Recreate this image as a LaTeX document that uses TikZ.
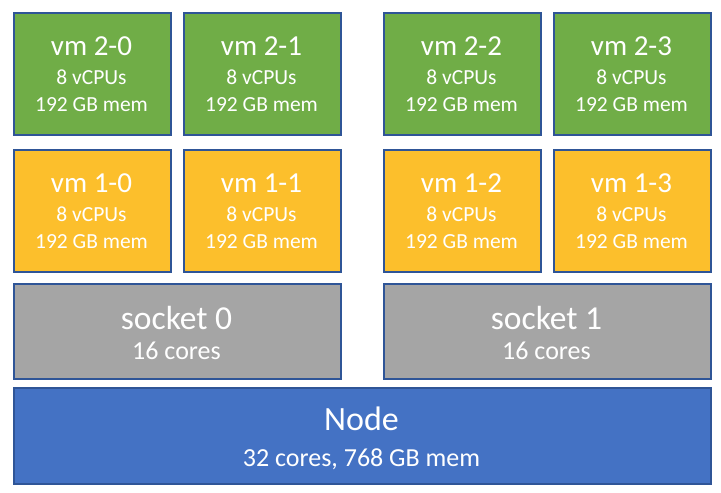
\documentclass[tikz,border=0pt]{standalone}
\usepackage{fontspec}
\setmainfont{Carlito}
\definecolor{vmgreen}{HTML}{70AD47}
\definecolor{vmorange}{HTML}{FCBF2C}
\definecolor{sockgray}{HTML}{A5A5A5}
\definecolor{nodeblue}{HTML}{4472C4}
\definecolor{edgeblue}{HTML}{2F5597}
\tikzset{
  box/.style={draw=edgeblue, line width=1.6pt, inner sep=0pt, anchor=north west},
  txt/.style={text=white, anchor=base, inner sep=0pt},
  vmttl/.style={txt, font=\fontsize{29}{33}\selectfont},
  vmsub/.style={txt, font=\fontsize{21.5}{25}\selectfont},
  skttl/.style={txt, font=\fontsize{33.5}{38}\selectfont},
  sksub/.style={txt, font=\fontsize{26}{30}\selectfont},
  ndttl/.style={txt, font=\fontsize{34}{38}\selectfont},
  ndsub/.style={txt, font=\fontsize{26}{30}\selectfont},
}
\newcommand\vmcell[5]{%
  \node[box, fill=#4, minimum width=157pt, minimum height=122pt] (#1) at (#2,#3) {};
  \node[vmttl] (#1t) at (#2+78.5,#3+43.7) {vm #5};
  \node[vmsub] (#1c) at (#2+78.5,#3+72.3) {8 vCPUs};
  \node[vmsub] (#1m) at (#2+78.5,#3+99.7) {192 GB mem};
}
\begin{document}
\begin{tikzpicture}[x=1pt,y=-1pt]
\useasboundingbox (0,0) rectangle (721,493);
\vmcell{v20}{13}{12}{vmgreen}{2-0}
\vmcell{v21}{183}{12}{vmgreen}{2-1}
\vmcell{v22}{383}{12}{vmgreen}{2-2}
\vmcell{v23}{553}{12}{vmgreen}{2-3}
\vmcell{v10}{13}{149}{vmorange}{1-0}
\vmcell{v11}{183}{149}{vmorange}{1-1}
\vmcell{v12}{383}{149}{vmorange}{1-2}
\vmcell{v13}{553}{149}{vmorange}{1-3}
\node[box, fill=sockgray, minimum width=327pt, minimum height=95pt] (s0) at (13,283) {};
\node[skttl] (s0t) at (176.5,329.3) {socket 0};
\node[sksub] (s0c) at (176.5,359.3) {16 cores};
\node[box, fill=sockgray, minimum width=327pt, minimum height=95pt] (s1) at (383,283) {};
\node[skttl] (s1t) at (546.5,329.3) {socket 1};
\node[sksub] (s1c) at (546.5,359.3) {16 cores};
\node[box, fill=nodeblue, minimum width=697pt, minimum height=96pt] (nd) at (13,387) {};
\node[ndttl] (ndt) at (361.5,430) {Node};
\node[ndsub] (ndc) at (361.5,466) {32 cores, 768 GB mem};
\end{tikzpicture}
\end{document}
